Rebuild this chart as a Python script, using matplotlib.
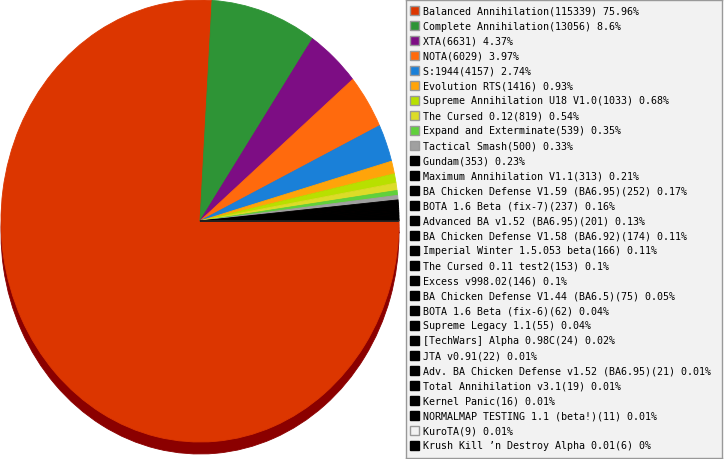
import matplotlib
matplotlib.use("Agg")
import matplotlib.pyplot as plt
from matplotlib.patches import Rectangle

# mods and the number of games played with each
mods = ["Balanced Annihilation", "Complete Annihilation", "XTA", "NOTA", "S:1944",
        "Evolution RTS", "Supreme Annihilation U18 V1.0", "The Cursed 0.12",
        "Expand and Exterminate", "Tactical Smash", "Gundam", "Maximum Annihilation V1.1",
        "BA Chicken Defense V1.59 (BA6.95)", "BOTA 1.6 Beta (fix-7)",
        "Advanced BA v1.52 (BA6.95)", "BA Chicken Defense V1.58 (BA6.92)",
        "Imperial Winter 1.5.053 beta", "The Cursed 0.11 test2", "Excess v998.02",
        "BA Chicken Defense V1.44 (BA6.5)", "BOTA 1.6 Beta (fix-6)", "Supreme Legacy 1.1",
        "[TechWars] Alpha 0.98C", "JTA v0.91", "Adv. BA Chicken Defense v1.52 (BA6.95)",
        "Total Annihilation v3.1", "Kernel Panic", "NORMALMAP TESTING 1.1 (beta!)",
        "KuroTA", "Krush Kill \u2019n Destroy Alpha 0.01"]
games = [115339, 13056, 6631, 6029, 4157, 1416, 1033, 819, 539, 500, 353, 313, 252,
         237, 201, 174, 166, 153, 146, 75, 62, 55, 24, 22, 21, 19, 16, 11, 9, 6]
percent = [75.96, 8.6, 4.37, 3.97, 2.74, 0.93, 0.68, 0.54, 0.35, 0.33, 0.23, 0.21,
           0.17, 0.16, 0.13, 0.11, 0.11, 0.1, 0.1, 0.05, 0.04, 0.04, 0.02, 0.01,
           0.01, 0.01, 0.01, 0.01, 0.01, 0]
colors = ["#dc3600", "#2e9436", "#7d0d84", "#ff6a0d", "#1a80d8", "#ffa40a", "#b8e000",
          "#dcdc28", "#60d03c", "#a0a0a0"] + ["#000000"] * 18 + ["#f2f2f2", "#000000"]

W, H = 725, 460
fig = plt.figure(figsize=(W / 100, H / 100), dpi=100)

# pie: ellipse 398 px wide, 442 px tall, shadow 12 px below
rx, ry, shadow = 199, 221, 12
ax = fig.add_axes([1 / W, 5 / H, 2 * rx / W, (2 * ry + shadow) / H])
ax.pie(games, colors=["#8b0000"] * len(games), startangle=0, counterclock=False,
       center=(0, -shadow / ry), wedgeprops=dict(linewidth=0.6, edgecolor="#8b0000"))
wedges, _ = ax.pie(games, colors=colors, startangle=0, counterclock=False,
                   wedgeprops=dict(linewidth=0.6))
for w, c in zip(wedges, colors):
    w.set_edgecolor(c)
ax.set_aspect("auto")
ax.set_xlim(-1, 1)
ax.set_ylim(-1 - shadow / ry, 1)
ax.axis("off")

# legend box
lx0, ly0, lx1, ly1 = 406, 1, 722, 459
lg = fig.add_axes([lx0 / W, 1 - ly1 / H, (lx1 - lx0) / W, (ly1 - ly0) / H])
lg.set_xlim(0, lx1 - lx0)
lg.set_ylim(ly1 - ly0, 0)
lg.set_facecolor("#f2f2f2")
for s in lg.spines.values():
    s.set_color("#999999")
    s.set_linewidth(1)
lg.set_xticks([])
lg.set_yticks([])

for i, (m, g, p, c) in enumerate(zip(mods, games, percent, colors)):
    yc = 10.5 + 15 * i
    edge = "#000000" if c == "#000000" else "#999999"
    lg.add_patch(Rectangle((4, yc - 4.5), 9, 9, facecolor=c, edgecolor=edge, linewidth=1))
    lg.text(17, yc, f"{m}({g}) {p:g}%", fontsize=7.2, family="DejaVu Sans Mono",
            va="center", ha="left", color="#000000")

fig.savefig("out.png", dpi=100)
